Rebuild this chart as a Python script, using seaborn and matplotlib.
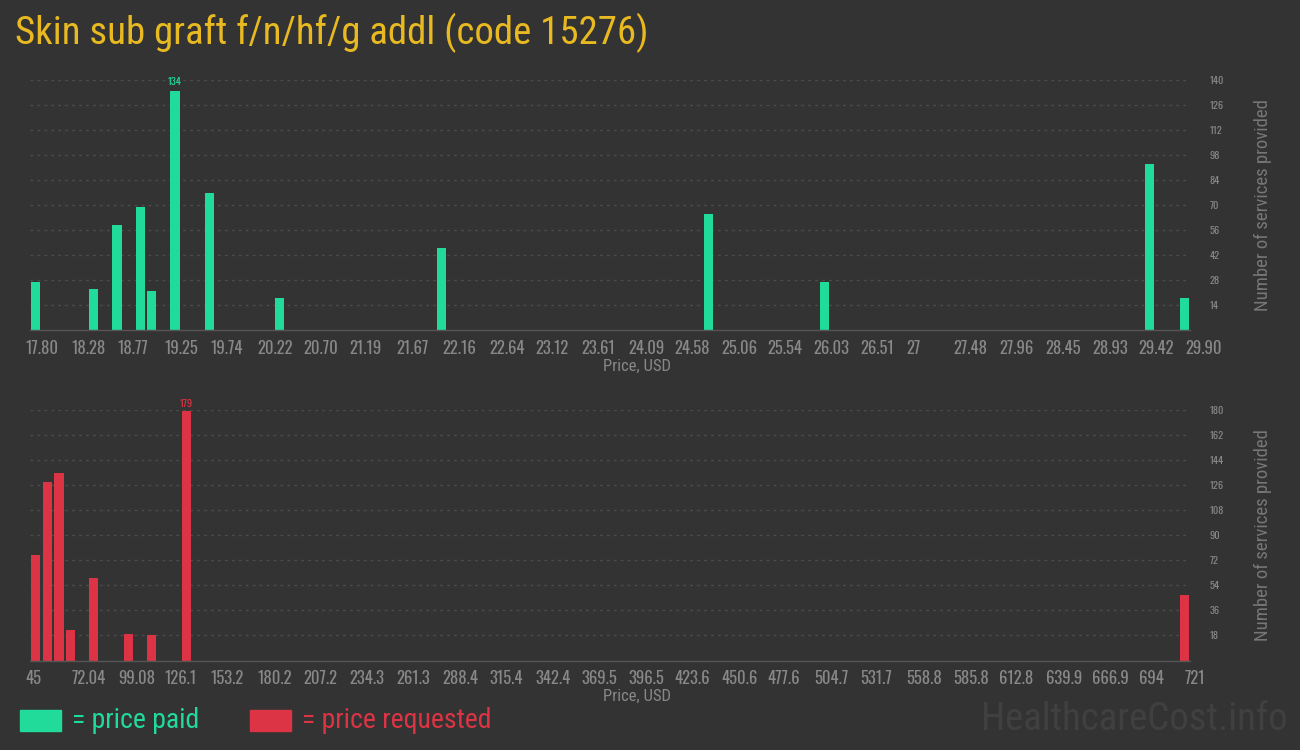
import numpy as np
import pandas as pd
import matplotlib
matplotlib.use("Agg")
import matplotlib.pyplot as plt
import matplotlib.transforms as mtransforms
import seaborn as sns

# datos (precio, numero de servicios)
paid_price = [17.86, 18.47, 18.71, 18.95, 19.07, 19.31, 19.68, 20.40, 22.09, 24.88, 26.09, 29.48, 29.84]
paid_count = [27, 23, 59, 69, 22, 134, 77, 18, 46, 65, 27, 93, 18]

req_price = [48, 55, 62, 69, 82, 102, 116, 136, 718]
req_count = [76, 128, 135, 22, 59, 19, 18, 179, 47]

paid_ticks = ["17.80", "18.28", "18.77", "19.25", "19.74", "20.22", "20.70", "21.19", "21.67",
              "22.16", "22.64", "23.12", "23.61", "24.09", "24.58", "25.06", "25.54", "26.03",
              "26.51", "27", "27.48", "27.96", "28.45", "28.93", "29.42", "29.90"]
req_ticks = ["45", "72.04", "99.08", "126.1", "153.2", "180.2", "207.2", "234.3", "261.3",
             "288.4", "315.4", "342.4", "369.5", "396.5", "423.6", "450.6", "477.6", "504.7",
             "531.7", "558.8", "585.8", "612.8", "639.9", "666.9", "694", "721"]
paid_yticks = [14, 28, 42, 56, 70, 84, 98, 112, 126, 140]
req_yticks = [18, 36, 54, 72, 90, 108, 126, 144, 162, 180]

BG = "#333333"
GREEN = "#21db9b"
RED = "#dc3444"
GRAY = "#888888"

sns.set_style("dark")
plt.rcParams['font.family'] = ['Roboto Condensed', 'DejaVu Sans']
NUM_FONT = ['Oswald', 'Roboto Condensed', 'DejaVu Sans']  # cifras altas y estrechas

fig = plt.figure(figsize=(13, 7.5), dpi=100)
fig.patch.set_facecolor(BG)

ax1 = fig.add_axes([30/1300, 1-330/750, 1160/1300, 250/750])
ax2 = fig.add_axes([30/1300, 1-660.5/750, 1160/1300, 250.5/750])


def dibujar(ax, precios, cuentas, ticks, yticks, color):
    df = pd.DataFrame({'price': precios, 'count': cuentas})
    lo, hi = float(ticks[0]), float(ticks[-1])
    # 100 intervalos, barras algo mas estrechas que el intervalo
    sns.histplot(data=df, x='price', weights='count', bins=100, binrange=(lo, hi),
                 shrink=0.78, color=color, alpha=1, edgecolor='none', linewidth=0, ax=ax)
    ax.set_facecolor(BG)
    ax.set_xlim(lo, hi)
    ax.set_ylim(0, yticks[-1])
    for s in ['top', 'left', 'right']:
        ax.spines[s].set_visible(False)
    ax.spines['bottom'].set_color('#555555')
    ax.spines['bottom'].set_linewidth(1)

    # eje x
    pos = np.linspace(lo, hi, len(ticks))
    ax.set_xticks(pos)
    ax.set_xticklabels(ticks, ha='left', family=NUM_FONT, fontweight='light')
    ax.set_xticks(np.linspace(lo, hi, 101), minor=True)
    ax.tick_params(axis='x', which='major', length=4, width=1, color='#666666',
                   labelcolor=GRAY, labelsize=12, pad=3, direction='out')
    ax.tick_params(axis='x', which='minor', length=2, width=1, color='#555555', direction='out')
    off = mtransforms.ScaledTranslation(-5/100, 0, fig.dpi_scale_trans)
    for lab in ax.get_xticklabels():
        lab.set_transform(lab.get_transform() + off)
    ax.set_xlabel("Price, USD", color=GRAY, fontsize=12, labelpad=2)
    ax.xaxis.set_label_coords(0.523, -0.115)

    # eje y a la derecha
    ax.yaxis.tick_right()
    ax.set_yticks(yticks)
    ax.set_yticklabels([str(v) for v in yticks], ha='left', family=NUM_FONT, fontweight='light')
    ax.tick_params(axis='y', length=0, labelcolor=GRAY, labelsize=7.5, pad=14)
    ax.yaxis.set_label_position('right')
    ax.set_ylabel("Number of services provided", color='#777777', fontsize=13.5, labelpad=22)
    ax.grid(axis='y', color='#4c4c4c', linestyle=(0, (2, 3)), linewidth=1)
    ax.grid(axis='x', visible=False)
    ax.set_axisbelow(True)

    # valor de la barra mas alta
    i = int(np.argmax(cuentas))
    bw = (hi - lo) / 100
    x0 = lo + np.floor((precios[i] - lo) / bw) * bw + bw / 2
    ax.text(x0, cuentas[i] + 2, str(cuentas[i]), color=color, fontsize=7.5,
            ha='center', va='bottom', family=NUM_FONT, fontweight='light')


dibujar(ax1, paid_price, paid_count, paid_ticks, paid_yticks, GREEN)
dibujar(ax2, req_price, req_count, req_ticks, req_yticks, RED)

fig.text(15/1300, 1-33/750, "Skin sub graft f/n/hf/g addl (code 15276)", color="#e8b920",
         fontsize=28, va='center', ha='left')

# leyenda
fig.patches.append(plt.Rectangle((20/1300, 1-731/750), 41/1300, 21/750,
                                 transform=fig.transFigure, color=GREEN, figure=fig))
fig.text(72/1300, 1-720/750, "= price paid", color=GREEN, fontsize=20, va='center')
fig.patches.append(plt.Rectangle((250/1300, 1-731/750), 41/1300, 21/750,
                                 transform=fig.transFigure, color=RED, figure=fig))
fig.text(302/1300, 1-720/750, "= price requested", color=RED, fontsize=20, va='center')

fig.text(1288/1300, 1-720/750, "HealthcareCost.info", color="#404040", fontsize=28,
         ha='right', va='center')

fig.savefig("out.png", dpi=100, facecolor=BG)
